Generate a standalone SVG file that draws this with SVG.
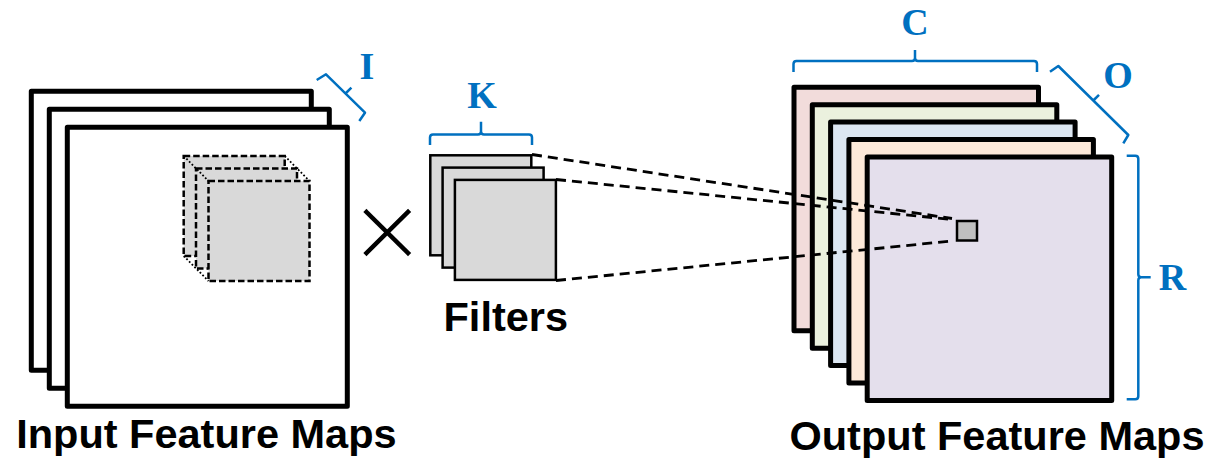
<svg xmlns="http://www.w3.org/2000/svg" width="1213" height="465" viewBox="0 0 1213 465">
  <style>
    .sheet { stroke: #000; stroke-width: 5; stroke-linejoin: round; }
    .filter { fill: #d9d9d9; stroke: #000; stroke-width: 2.5; }
    .patch { fill: #d9d9d9; stroke: #000; stroke-width: 2.5; stroke-dasharray: 6.5 3; }
    .edge { fill: none; stroke: #000; stroke-width: 1.8; stroke-dasharray: 1.8 2; }
    .conn { fill: none; stroke: #000; stroke-width: 2.8; stroke-dasharray: 10 6; }
    .brace { fill: none; stroke: #0070c0; stroke-width: 2.5; stroke-linejoin: round; }
    .dim { font-family: "Liberation Serif", "DejaVu Serif", serif; font-weight: bold; font-size: 38px; fill: #0070c0; text-anchor: middle; }
    .caption { font-family: "Liberation Sans", Arial, sans-serif; font-weight: bold; font-size: 41.5px; fill: #000; text-anchor: middle; }
  </style>

  <!-- input feature maps: three stacked sheets with a dashed receptive-field block -->
  <g id="input-maps">
    <rect class="sheet" x="31.3" y="91.3" width="280" height="279" fill="#fff"/>
    <rect class="sheet" x="49.3" y="109.3" width="280" height="279" fill="#fff"/>
    <rect class="sheet" x="67.3" y="127.3" width="280" height="279" fill="#fff"/>
    <g id="input-patch">
      <rect class="patch" x="183.7" y="156" width="101" height="100"/>
      <rect class="patch" x="196" y="168.5" width="101" height="100"/>
      <rect class="patch" x="208.5" y="181" width="101" height="100"/>
      <path class="edge" d="M183.7,156 L208.5,181 M284.7,156 L309.5,181 M183.7,256 L208.5,281"/>
    </g>
    <g id="input-brace">
      <path class="brace" d="M316.7,80 L326,74.3 L365,112.7 L359.3,121 M345.5,93.5 L351.4,87.6"/>
      <text class="dim" x="367" y="79">I</text>
    </g>
    <text class="caption" x="206.4" y="448">Input Feature Maps</text>
  </g>

  <!-- multiplication sign -->
  <g id="times" stroke="#000" stroke-width="4.5" stroke-linecap="square">
    <line x1="366.5" y1="212" x2="408" y2="253"/>
    <line x1="408" y1="212" x2="366.5" y2="253"/>
  </g>

  <!-- filter stack -->
  <g id="filters">
    <rect class="filter" x="430.3" y="155.3" width="101" height="100"/>
    <rect class="filter" x="442.6" y="167.6" width="101" height="100"/>
    <rect class="filter" x="454.9" y="179.9" width="101" height="100"/>
    <g id="filter-brace">
      <path class="brace" d="M430,145 L430,137.5 Q430,134.5 433,134.5 L478,134.5 Q481,134.5 481,131.5 L481,121.7 M481,131.5 Q481,134.5 484,134.5 L529,134.5 Q532,134.5 532,137.5 L532,145"/>
      <text class="dim" x="482" y="108">K</text>
    </g>
    <text class="caption" x="505.8" y="331">Filters</text>
  </g>

  <!-- output feature maps: five coloured sheets -->
  <g id="output-maps">
    <rect class="sheet" x="794" y="87.3" width="244.5" height="243.5" fill="#f2dcdb"/>
    <rect class="sheet" x="812.3" y="104.7" width="244.5" height="243.5" fill="#ebf1de"/>
    <rect class="sheet" x="830.6" y="122.1" width="244.5" height="243.5" fill="#dce6f1"/>
    <rect class="sheet" x="848.9" y="139.5" width="244.5" height="243.5" fill="#fde9d9"/>
    <rect class="sheet" x="867.2" y="156.9" width="244.5" height="243.5" fill="#e4dfec"/>
    <g id="output-brace-c">
      <path class="brace" d="M793.5,72 L793.5,64 Q793.5,61 796.5,61 L912,61 Q915,61 915,58 L915,50 M915,58 Q915,61 918,61 L1034,61 Q1037,61 1037,64 L1037,72"/>
      <text class="dim" x="915" y="35">C</text>
    </g>
    <g id="output-brace-o">
      <path class="brace" d="M1050,71.7 L1058.3,66 L1128.3,135 L1123.3,143.3 M1093.3,100.5 L1099,94.8"/>
      <text class="dim" x="1118" y="88">O</text>
    </g>
    <g id="output-brace-r">
      <path class="brace" d="M1126.7,155.7 L1135.3,155.7 Q1138.3,155.7 1138.3,158.7 L1138.3,274.3 Q1138.3,277.3 1141.3,277.3 L1150.7,277.3 M1141.3,277.3 Q1138.3,277.3 1138.3,280.3 L1138.3,396.3 Q1138.3,399.3 1135.3,399.3 L1126.7,399.3"/>
      <text class="dim" x="1172.5" y="290">R</text>
    </g>
    <text class="caption" x="997" y="450">Output Feature Maps</text>
  </g>

  <!-- projection lines from the filters onto one output element -->
  <g id="connectors">
    <line class="conn" x1="532" y1="154.5" x2="952" y2="218.5"/>
    <line class="conn" x1="556" y1="179.5" x2="952" y2="219.5"/>
    <line class="conn" x1="556" y1="280.5" x2="952" y2="241"/>
  </g>

  <!-- single output element -->
  <g id="output-element">
    <rect x="957" y="221" width="20" height="19.5" fill="#bfbfbf" stroke="#000" stroke-width="2.5"/>
  </g>
</svg>
